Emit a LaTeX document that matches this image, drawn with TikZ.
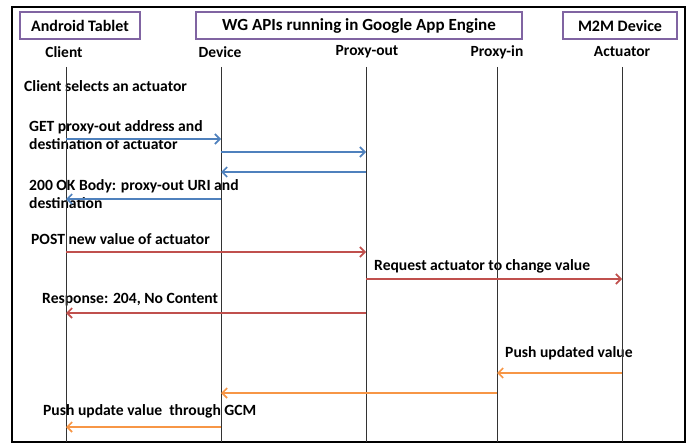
\documentclass[tikz,border=0pt]{standalone}
\usepackage{fontspec}
\setmainfont{Carlito}
\usetikzlibrary{arrows.meta}
\definecolor{mblue}{HTML}{4F81BD}
\definecolor{mred}{HTML}{C0504D}
\definecolor{morange}{HTML}{F79646}
\definecolor{mpurple}{HTML}{8064A2}
\tikzset{
  hdrbox/.style={draw=mpurple,line width=1.6pt,minimum height=27pt,inner sep=0pt,font=\bfseries\fontsize{16}{18}\selectfont},
  lifename/.style={font=\bfseries\fontsize{15.5}{18}\selectfont},
  msg/.style={font=\bfseries\fontsize{15.6}{18}\selectfont,anchor=west,align=left,inner sep=0pt},
  life/.style={draw=black!80,line width=0.9pt},
  arr/.style={line width=2pt,-{Straight Barb[length=5pt,width=10pt,line width=1.6pt]}},
  barr/.style={arr,draw=mblue},
  rarr/.style={arr,draw=mred},
  oarr/.style={arr,draw=morange},
}
\begin{document}
\begin{tikzpicture}[x=1pt,y=-1pt]
\useasboundingbox (0,0) rectangle (691,444);
\draw[line width=2pt] (12,7) rectangle (685,442);
% header boxes
\node[hdrbox,minimum width=120pt] (tab) at (80,25.5) {Android Tablet};
\node[hdrbox,minimum width=326pt] (wg) at (359,25.5) {\fontsize{17}{19}\selectfont WG APIs running in Google App Engine};
\node[hdrbox,minimum width=114pt] (m2m) at (620,25.5) {\fontsize{16}{18}\selectfont M2M Device};
% lifeline names
\node[lifename] (nc) at (64,52) {Client};
\node[lifename] (nd) at (220,52) {Device};
\node[lifename] (npo) at (367,52) {Proxy-out};
\node[lifename] (npi) at (497,52) {Proxy-in};
\node[lifename] (na) at (622,52) {Actuator};
% lifelines
\coordinate (cl) at (66,67);  \coordinate (clb) at (66,442);
\coordinate (dv) at (221,67); \coordinate (dvb) at (221,442);
\coordinate (po) at (366,67); \coordinate (pob) at (366,442);
\coordinate (pi) at (497,67); \coordinate (pib) at (497,442);
\coordinate (ac) at (622,67); \coordinate (acb) at (622,442);
% texts
\node[msg] (t0) at (24,86) {Client selects an actuator};
\node[msg] (t1) at (29,135) {GET proxy-out address and\\destination of actuator};
\node[msg] (t2) at (29,194.5) {200 OK Body: proxy-out URI and\\destination};
\node[msg] (t3) at (31,239) {POST new value of actuator};
\node[msg] (t4) at (374,266) {Request actuator to change value};
\node[msg] (t5) at (42,300) {Response: 204, No Content};
\node[msg] (t6) at (505,353) {Push updated value};
\node[msg] (t7) at (43,411) {Push update value\ \ through GCM};
% lifeline lines
\draw[life] (cl) -- (clb);
\draw[life] (dv) -- (dvb);
\draw[life] (po) -- (pob);
\draw[life] (pi) -- (pib);
\draw[life] (ac) -- (acb);
% messages
\draw[barr] (cl |- 0,139) -- (dv |- 0,139);
\draw[barr] (dv |- 0,152) -- (po |- 0,152);
\draw[barr] (po |- 0,172) -- (dv |- 0,172);
\draw[barr] (dv |- 0,199) -- (cl |- 0,199);
\draw[rarr] (cl |- 0,252) -- (po |- 0,252);
\draw[rarr] (po |- 0,279) -- (ac |- 0,279);
\draw[rarr] (po |- 0,313) -- (cl |- 0,313);
\draw[oarr] (ac |- 0,373) -- (pi |- 0,373);
\draw[oarr] (pi |- 0,393) -- (dv |- 0,393);
\draw[oarr] (dv |- 0,427) -- (cl |- 0,427);
\end{tikzpicture}
\end{document}
